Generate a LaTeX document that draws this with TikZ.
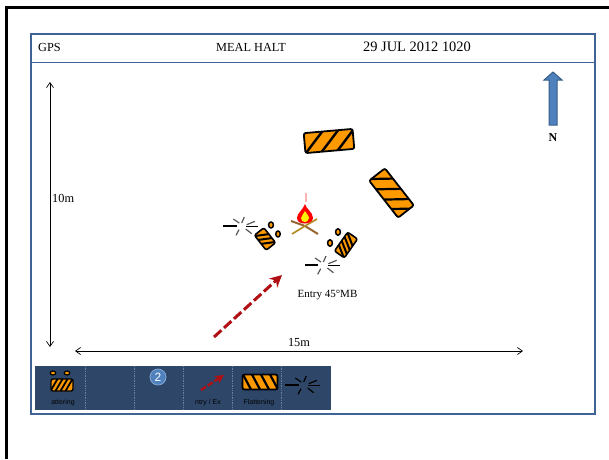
\documentclass[tikz,border=0pt]{standalone}
\usepackage{fontspec}
\setmainfont{Liberation Serif}
\newfontfamily\legendfont{Liberation Sans}
\usetikzlibrary{arrows.meta,patterns}
\definecolor{framecol}{HTML}{3F6397}
\definecolor{flankor}{HTML}{FF9900}
\definecolor{legbg}{HTML}{2E4769}
\definecolor{legsep}{HTML}{6A829F}
\definecolor{arrred}{HTML}{B00F14}
\definecolor{nfill}{HTML}{4F81BD}
\definecolor{nline}{HTML}{385D8A}
\tikzset{
  x=1pt,y=-1pt,
  frameline/.style={draw=framecol,line width=2pt},
  dimline/.style={draw=black,line width=0.7pt,{Straight Barb[length=5pt,width=7pt]}-{Straight Barb[length=5pt,width=7pt]}},
  lbl/.style={inner sep=0pt,font=\fontsize{12.3}{14}\selectfont},
  leglbl/.style={inner sep=0pt,text=black,font=\legendfont\fontsize{7}{8}\selectfont},
  rock/.style={draw=black,line width=1.5pt,fill=flankor},
  redarrow/.style={draw=arrred,line width=3pt,dash pattern=on 10pt off 3.5pt,-{Stealth[length=12pt,width=12pt]}},
}
% x y rot w h du stripe-offsets stripe-width outline-width
\newcommand{\flank}[9]{%
  \begin{scope}[shift={(#1,#2)},rotate=#3]
    \fill[flankor,rounded corners=2pt] (-#4/2,-#5/2) rectangle (#4/2,#5/2);
    \begin{scope}
      \clip[rounded corners=2pt] (-#4/2,-#5/2) rectangle (#4/2,#5/2);
      \foreach \o in {#7}{\draw[line width=#8] (\o-#6,#5/2) -- (\o+#6,-#5/2);}
    \end{scope}
    \draw[line width=#9,rounded corners=2pt] (-#4/2,-#5/2) rectangle (#4/2,#5/2);
  \end{scope}}
\newcommand{\burst}[3]{%
  \begin{scope}[shift={(#1,#2)},line width=1.2pt]
    \draw[black] (-17.7,0) -- (-4.3,0);
    \draw[#3] (-7.7,-7) -- (-1.7,-3);
    \draw[#3] (3.3,-9) -- (0.7,-3);
    \draw[#3] (14,-4.7) -- (5.7,-1.3);
    \draw[black] (17.3,.3) -- (5,.3);
    \draw[#3] (10.7,7.7) -- (4.7,3);
    \draw[#3] (-2,3.7) -- (-5,9.3);
  \end{scope}}
\begin{document}
\begin{tikzpicture}
\useasboundingbox (0,0) rectangle (609,459);
\fill[white] (0,0) rectangle (609,459);
% page edge
\draw[black,line width=3pt] (6,459) -- (6,7) -- (609,7);
% frame
\draw[frameline] (31,34) rectangle (595,414);
\draw[draw=framecol,line width=1.4pt] (31,62.5) -- (595,62.5);
% header
\node[lbl,anchor=west] (gps) at (38,47) {GPS};
\node[lbl] (meal) at (251,47.5) {MEAL HALT};
\node[lbl,font=\fontsize{14.4}{16}\selectfont] (date) at (417,46.5) {29 JUL 2012 1020};
% north
\draw[fill=nfill,draw=nline,line width=1pt] (549,125) -- (557,125) -- (557,80) -- (562,80) -- (553,72) -- (544,80) -- (549,80) -- cycle;
\node[lbl,font=\fontsize{12}{14}\selectfont\bfseries] (north) at (553,138) {N};
% dimensions
\coordinate (vt) at (50,82);
\coordinate (vb) at (50,347);
\coordinate (hl) at (75,351);
\coordinate (hr) at (523,351);
\draw[dimline] (vt) -- (vb);
\draw[dimline] (hl) -- (hr);
\node[lbl,anchor=west] (ten) at (52,198) {10m};
\node[lbl] (fifteen) at (299,342) {15m};
% harbour elements
\flank{329}{141}{5}{49}{20}{9}{-15,1,17}{2.4pt}{1.8pt}
\flank{391.5}{193}{-52}{47}{20}{7.5}{-18,-5,8,20}{2.2pt}{1.8pt}
\flank{265}{239}{-52}{19}{12}{3.5}{-5,0,5}{2pt}{1.6pt}
\flank{346}{245}{55}{23}{12}{4}{-8,-3,2,7}{2pt}{1.6pt}
\draw[rock] (271,225) ellipse [x radius=2.4,y radius=3];
\draw[rock] (278,234) ellipse [x radius=2.2,y radius=3];
\draw[rock] (338,232) ellipse [x radius=2.4,y radius=3.2];
\draw[rock] (330,243) ellipse [x radius=2.4,y radius=3.2];
\burst{241}{226}{black!65}
\burst{322.7}{265}{black!65}
% fire
\draw[red!30,line width=1.6pt] (306,193) -- (306,202);
\draw[draw=brown!80!black,line width=2pt] (291,221) -- (305,226) -- (318,234);
\draw[draw=brown!70!yellow!85!black,line width=1.7pt] (317,219) -- (305,226) -- (292,234);
\fill[red] (305,204) .. controls (306,209) and (313,212) .. (313,218) .. controls (313,222) and (308,223.5) .. (305,223.5) .. controls (301,223.5) and (297,222) .. (297,218) .. controls (297,213) and (303,210) .. (305,204);
\fill[yellow] (305,211) .. controls (306,213) and (309,216) .. (309,218) .. controls (309,221) and (306,222) .. (305,222) .. controls (303,222) and (301,221) .. (301,218) .. controls (301,216) and (304,214) .. (305,211);
% entry
\coordinate (ea) at (214,337);
\coordinate (eb) at (282,275);
\draw[redarrow] (ea) -- (eb);
\node[lbl,font=\fontsize{11}{13}\selectfont] (entry) at (327.5,295.5) {Entry 45°MB};
% legend
\fill[legbg] (35,365.5) rectangle (330.5,410);
\foreach \sx in {85,134,183,232,281}{\draw[legsep,line width=0.7pt,densely dotted] (\sx,366) -- (\sx,410);}
\flank{62}{385}{0}{22}{12}{3.5}{-8,-3,2,7}{1.8pt}{1.4pt}
\draw[rock,line width=1.2pt] (53,373) ellipse [x radius=2.8,y radius=2];
\draw[rock,line width=1.2pt] (67,373) ellipse [x radius=2.8,y radius=2];
\node[leglbl] (l1) at (63,402.5) {attering};
\node[circle,fill=nfill,draw=nfill!70!white,line width=0.8pt,minimum size=16pt,inner sep=0pt,text=white,font=\legendfont\fontsize{12}{13}\selectfont] (two) at (158,377) {2};
\coordinate (la) at (201,390);
\coordinate (lb) at (224,375);
\draw[draw=arrred,line width=2.4pt,dash pattern=on 6pt off 2pt,-{Stealth[length=9pt,width=9pt]}] (la) -- (lb);
\node[leglbl] (l2) at (208,403) {ntry / Ex};
\flank{260}{382}{0}{35}{15}{-4}{-13,-4,5,14}{2.2pt}{1.8pt}
\node[leglbl] (l3) at (259,403) {Flattening};
\burst{303}{385}{black}
\end{tikzpicture}
\end{document}
